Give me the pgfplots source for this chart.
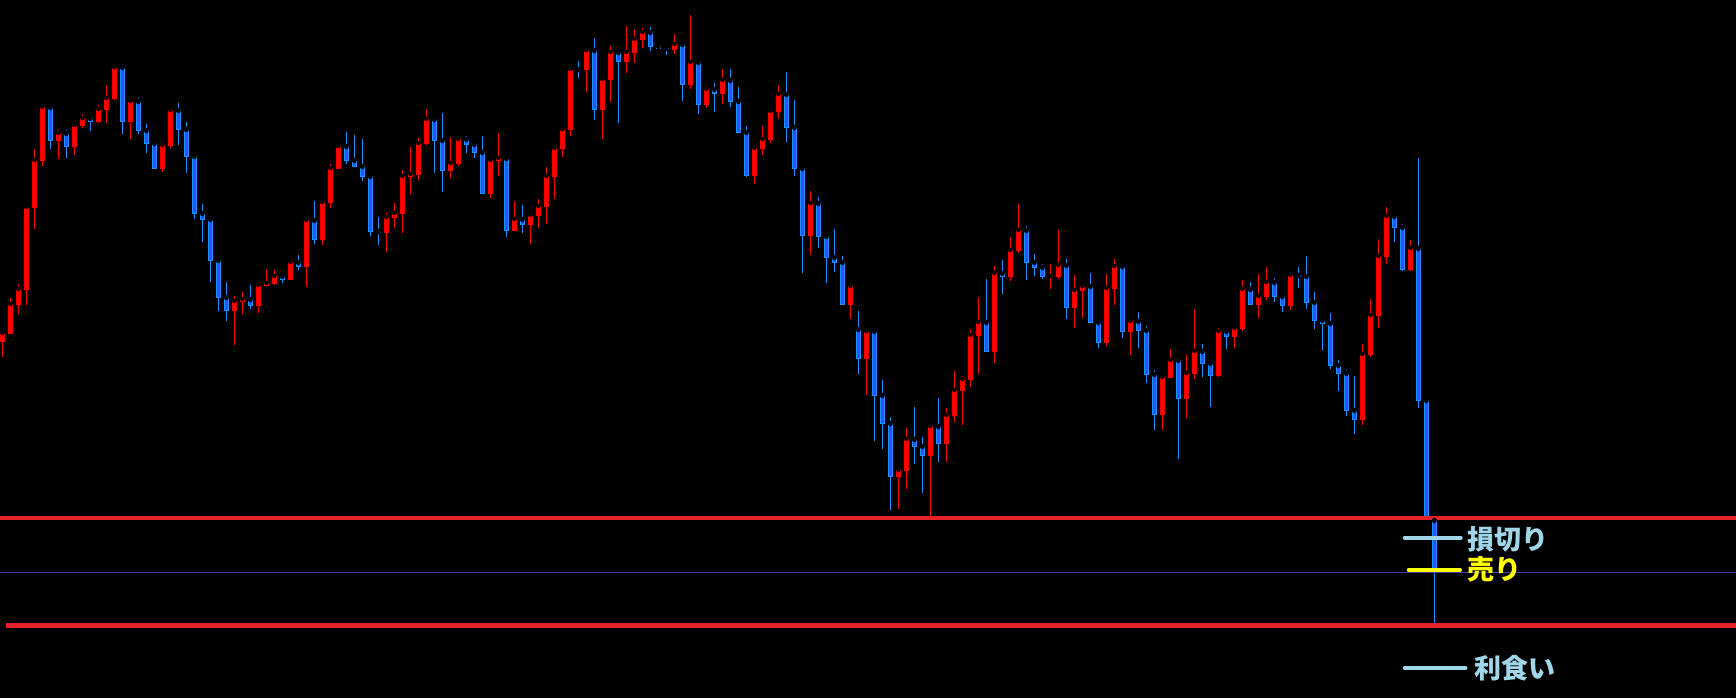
\documentclass[border=0pt]{standalone}
\usepackage{pgfplots}
\usepackage{pgfplotstable}
\pgfplotsset{compat=1.18}
\usepackage{fontspec}
\newfontfamily\jp{Noto Sans CJK JP}
\definecolor{cRed}{RGB}{255,0,0}
\definecolor{cBorder}{RGB}{30,144,255}
\definecolor{cFill}{RGB}{50,80,255}
\definecolor{cLine}{RGB}{232,30,40}
\definecolor{cThin}{RGB}{75,60,160}
\definecolor{cLight}{RGB}{160,214,234}
\definecolor{cYellow}{RGB}{255,255,0}
% columns: i = candle index, bt/bb = body top/bottom, wt/wb = wick top/bottom (screen rows, downward)
\pgfplotstableread{
i bt bb wt wb
0 333 342 331 357
1 304 334 296 334
2 289 305 282 314
3 207 290 205 305
4 160 208 147 229
5 107 161 104 166
7 133 141 128 159
9 125 147 125 155
10 118 126 112 128
12 109 122 103 123
13 98 110 83 123
14 67 99 67 100
16 101 122 97 139
20 145 169 140 172
21 110 146 107 148
29 301 311 294 345
30 299 302 290 314
32 285 306 283 313
33 283 286 267 286
34 276 284 268 285
36 262 280 259 280
38 220 267 217 287
40 202 240 201 245
41 168 203 162 208
42 146 169 146 169
48 217 233 211 252
49 213 218 201 228
50 176 214 168 233
51 174 177 145 194
52 143 175 136 180
53 119 144 107 145
56 163 171 135 178
57 139 164 136 166
61 160 194 158 198
62 158 161 131 176
64 219 231 199 231
66 215 225 212 244
67 206 216 197 228
68 176 207 165 224
69 148 177 147 199
70 129 149 129 157
71 69 130 69 136
73 50 70 50 92
75 79 110 76 139
76 52 80 44 102
78 52 62 24 73
79 39 53 27 63
80 32 40 26 48
84 44 50 32 54
86 62 85 13 89
88 89 105 84 108
90 80 94 67 104
94 148 176 146 184
95 139 149 124 155
96 111 140 109 143
97 94 112 83 119
101 203 236 189 255
106 286 305 282 319
108 331 359 331 395
112 470 477 466 509
113 439 471 426 489
116 426 456 422 516
118 415 444 406 462
119 390 416 369 422
120 379 391 374 425
121 335 380 327 387
122 322 336 295 374
124 273 352 264 363
126 250 277 235 281
127 230 251 202 253
131 276 277 262 289
132 265 277 228 279
134 290 308 273 328
135 286 291 286 318
138 288 343 272 346
139 266 289 257 305
141 321 332 317 355
145 377 415 376 430
146 360 378 347 378
148 373 399 353 418
149 351 374 307 379
152 331 376 326 377
154 328 337 327 348
155 289 329 278 331
157 296 305 272 318
158 282 297 265 300
161 275 306 273 310
170 354 420 342 425
171 315 355 297 357
172 256 316 237 328
173 216 257 205 264
176 248 270 238 271
}\redtbl
\pgfplotstableread{
i bt bb wt wb
6 107 141 104 149
8 133 147 128 158
11 118 122 117 131
15 67 122 67 134
17 101 131 96 134
18 130 144 122 153
19 143 169 141 169
22 110 130 101 145
23 129 157 120 173
24 156 214 154 219
25 213 220 202 242
26 219 261 219 282
27 260 298 258 311
28 297 311 280 321
31 299 306 283 309
35 276 280 274 283
37 262 267 253 270
39 220 240 199 244
43 146 161 130 164
44 160 167 133 167
45 166 177 137 181
46 176 232 173 236
47 231 233 215 245
54 119 141 118 173
55 140 171 111 192
58 139 145 134 153
59 144 153 142 158
60 152 194 134 194
63 158 231 158 237
65 219 225 203 233
72 69 70 59 78
74 50 110 36 120
77 52 62 48 123
81 32 47 25 51
82 46 49 42 49
83 48 50 46 55
85 44 85 42 101
87 62 105 59 114
89 89 94 81 112
91 80 102 67 107
92 101 133 85 133
93 132 176 124 177
98 94 128 70 142
99 127 169 98 176
100 168 236 167 273
102 203 237 195 248
103 236 258 232 283
104 257 263 227 272
105 262 305 254 305
107 329 359 309 374
109 331 396 327 441
110 395 424 378 449
111 423 477 415 510
114 439 447 405 464
115 446 456 435 493
117 426 444 396 462
123 322 352 277 352
125 273 277 258 294
128 230 263 224 280
129 262 268 252 276
130 267 277 262 279
133 265 308 257 319
136 286 323 271 323
137 322 343 321 348
140 266 332 265 338
142 321 331 310 348
143 330 375 324 383
144 374 415 368 430
147 360 399 357 459
150 351 364 342 377
151 363 376 361 407
153 331 337 327 349
156 289 305 280 305
159 282 297 276 302
160 296 306 296 312
162 275 277 265 288
163 276 303 254 309
164 302 321 290 329
165 320 324 318 350
166 323 366 311 369
167 365 374 358 391
168 373 411 368 416
169 410 420 374 434
174 216 228 213 242
175 227 270 222 271
177 248 401 156 408
178 400 517 398 517
179 520 572 520 625
}\bluetbl
\pgfplotsset{
  cbar/.style 2 args={only marks, mark=none, forget plot,
    error bars/.cd, y dir=plus, y explicit, error mark=none,
    error bar style={draw=#1, line width=#2, line cap=butt}},
}
\begin{document}
\begin{tikzpicture}
\begin{axis}[
  width=1736pt, height=698pt, scale only axis,
  xmin=-0.29125, xmax=216.70875, ymin=0, ymax=698, y dir=reverse,
  axis background/.style={fill=black},
  axis line style={draw=none},
  xtick=\empty, ytick=\empty,
  clip=true,
]
% red (rising) candles
\addplot[cbar={cRed}{1pt}] table[x=i, y=wt, y error plus expr={\thisrow{wb}-\thisrow{wt}}] {\redtbl};
\addplot[cbar={cRed}{5pt}] table[x=i, y=bt, y error plus expr={max(\thisrow{bb}-\thisrow{bt},1.2)}] {\redtbl};
% blue (falling) candles
\addplot[cbar={cBorder}{1pt}] table[x=i, y=wt, y error plus expr={\thisrow{wb}-\thisrow{wt}}] {\bluetbl};
\addplot[cbar={cBorder}{5pt}] table[x=i, y=bt, y error plus expr={max(\thisrow{bb}-\thisrow{bt},1.2)}] {\bluetbl};
\addplot[cbar={cFill}{3pt}] table[x=i, y expr={\thisrow{bt}+1}, y error plus expr={max(\thisrow{bb}-\thisrow{bt}-2,0)}] {\bluetbl};
% horizontal levels
\addplot[cThin, line width=1pt, forget plot] coordinates {(-0.3,572) (216.8,572)};
\addplot[cLine, line width=4.5pt, forget plot] coordinates {(-0.3,518) (216.8,518)};
\addplot[cLine, line width=4.5pt, forget plot] coordinates {(0.4,625.5) (216.8,625.5)};
% annotation markers
\addplot[cLight, line width=4pt, line cap=round, forget plot] coordinates {(175.3,537.5) (182.3,537.5)};
\addplot[cYellow, line width=4pt, line cap=round, forget plot] coordinates {(175.8,570) (182.2,570)};
\addplot[cLight, line width=4pt, line cap=round, forget plot] coordinates {(175.3,668) (182.9,668)};
\node[anchor=west, inner sep=0pt, text=cLight, font=\jp\bfseries\fontsize{27}{31}\selectfont] at (axis cs:183.1,539) {損切り};
\node[anchor=west, inner sep=0pt, text=cYellow, font=\jp\bfseries\fontsize{27}{31}\selectfont] at (axis cs:183.1,569) {売り};
\node[anchor=west, inner sep=0pt, text=cLight, font=\jp\bfseries\fontsize{27}{31}\selectfont] at (axis cs:184.0,668) {利食い};
\end{axis}
\end{tikzpicture}
\end{document}
